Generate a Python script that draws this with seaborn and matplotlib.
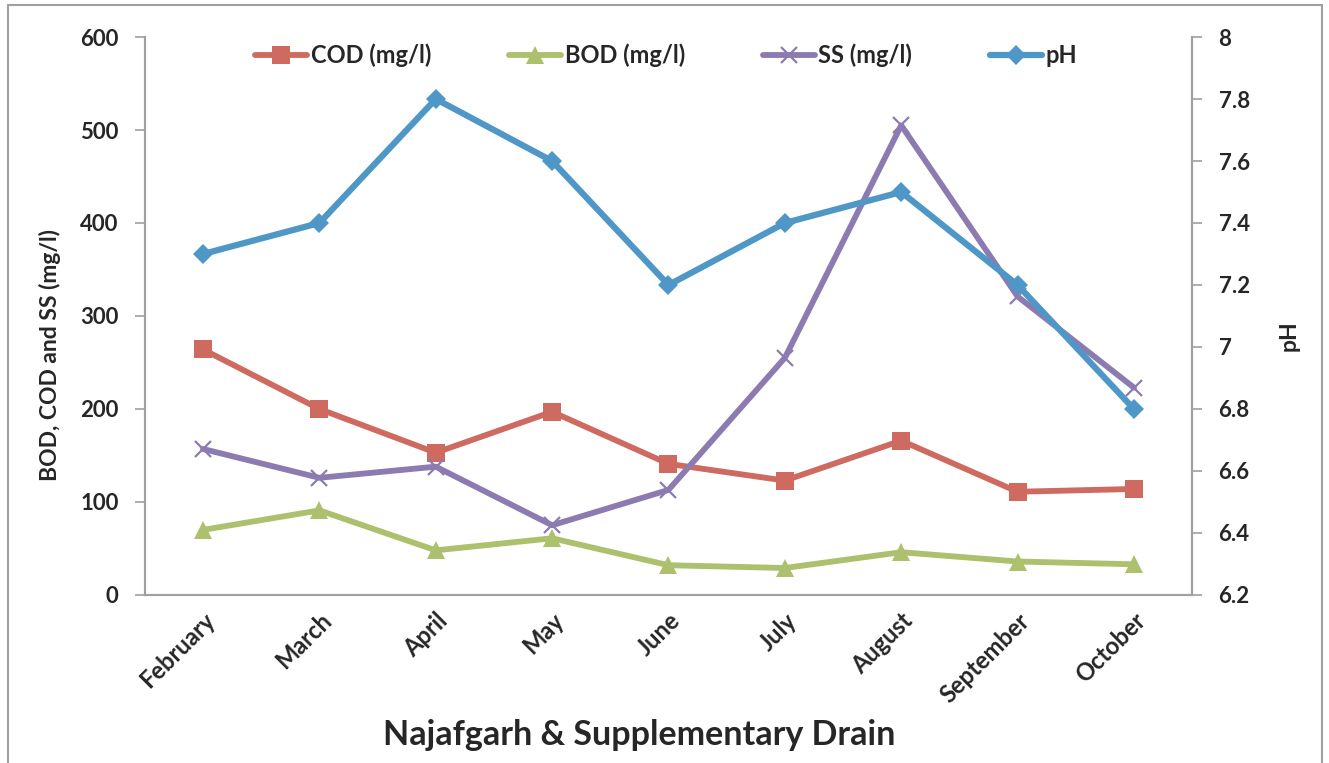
import pandas as pd
import seaborn as sns
import matplotlib.pyplot as plt
from matplotlib.patches import Rectangle

# Monthly readings
months = ["February", "March", "April", "May", "June", "July", "August", "September", "October"]
cod = [264, 200, 153, 197, 141, 123, 166, 111, 114]
bod = [70, 91, 48, 61, 32, 29, 46, 36, 33]
ss = [157, 126, 138, 75, 113, 255, 505, 321, 223]
ph = [7.3, 7.4, 7.8, 7.6, 7.2, 7.4, 7.5, 7.2, 6.8]

df = pd.DataFrame({"Month": months, "COD": cod, "BOD": bod, "SS": ss, "pH": ph})

sns.set_style("white")
plt.rcParams["font.family"] = ["Lato", "DejaVu Sans"]
plt.rcParams["font.weight"] = "bold"

colors = {"COD": "#CF6A60", "BOD": "#ADC06E", "SS": "#8C7BB0", "pH": "#4E97C6"}
axis_gray = "#A0A0A0"

fig = plt.figure(figsize=(13.29, 7.63), dpi=100)
ax = fig.add_axes([0.109, 0.2202, 0.788, 0.7313])
ax2 = ax.twinx()

sns.lineplot(data=df, x="Month", y="COD", ax=ax, color=colors["COD"], lw=4.2,
             marker="s", markersize=12.5, markeredgewidth=0, label="COD (mg/l)", sort=False)
sns.lineplot(data=df, x="Month", y="BOD", ax=ax, color=colors["BOD"], lw=4.2,
             marker="^", markersize=13, markeredgewidth=0, label="BOD (mg/l)", sort=False)
sns.lineplot(data=df, x="Month", y="SS", ax=ax, color=colors["SS"], lw=4.2,
             marker="x", markersize=12, markeredgewidth=1.6, markeredgecolor=colors["SS"],
             label="SS (mg/l)", sort=False)
sns.lineplot(data=df, x="Month", y="pH", ax=ax2, color=colors["pH"], lw=4.5,
             marker="D", markersize=10, markeredgewidth=0, label="pH", sort=False)

# axes limits and ticks
ax.set_xlim(-0.5, len(months) - 0.5)
ax.set_ylim(0, 600)
ax.set_yticks(range(0, 601, 100))
ax2.set_ylim(6.2, 8.0)
ax2.set_yticks([6.2, 6.4, 6.6, 6.8, 7.0, 7.2, 7.4, 7.6, 7.8, 8.0])
ax2.set_yticklabels(["6.2", "6.4", "6.6", "6.8", "7", "7.2", "7.4", "7.6", "7.8", "8"])

ax.set_xticks(range(len(months)))
ax.set_xticklabels(months, rotation=45, ha="right", rotation_mode="anchor",
                   fontsize=17, fontweight="bold")
ax.tick_params(axis="x", length=0, pad=10)
ax.tick_params(axis="y", labelsize=16, length=7, width=1.2, color=axis_gray, pad=12)
ax2.tick_params(axis="y", labelsize=16, length=7, width=1.2, color=axis_gray, pad=12)
for lab in ax.get_yticklabels() + ax2.get_yticklabels():
    lab.set_fontweight("bold")

for a in (ax, ax2):
    a.spines["top"].set_visible(False)
    for s in ("left", "right", "bottom"):
        a.spines[s].set_color(axis_gray)
        a.spines[s].set_linewidth(1.5)

ax.set_ylabel("BOD, COD and SS (mg/l)", fontsize=16.5, fontweight="bold")
ax.yaxis.set_label_coords(-0.08, 0.43)
ax2.set_ylabel("pH", fontsize=16.5, fontweight="bold")
ax2.yaxis.set_label_coords(1.083, 0.465)
ax.set_xlabel("Najafgarh & Supplementary Drain", fontsize=24.5, fontweight="bold")
ax.xaxis.set_label_coords(0.472, -0.222)

# merged legend across both axes
h1, l1 = ax.get_legend_handles_labels()
h2, l2 = ax2.get_legend_handles_labels()
if ax2.get_legend() is not None:
    ax2.get_legend().remove()
ax.legend(h1 + h2, l1 + l2, loc="upper center", bbox_to_anchor=(0.498, 1.026), ncol=4,
          frameon=False, handlelength=2.2, columnspacing=3.3,
          handletextpad=0.15, prop={"weight": "bold", "size": 17})

# outer chart border
fig.patches.append(Rectangle((8 / 1329, -0.01), 1314 / 1329, 1 - 5 / 763 + 0.01,
                             transform=fig.transFigure, fill=False,
                             edgecolor="#A0A0A0", linewidth=1.5))

fig.savefig("out.png", dpi=100)
